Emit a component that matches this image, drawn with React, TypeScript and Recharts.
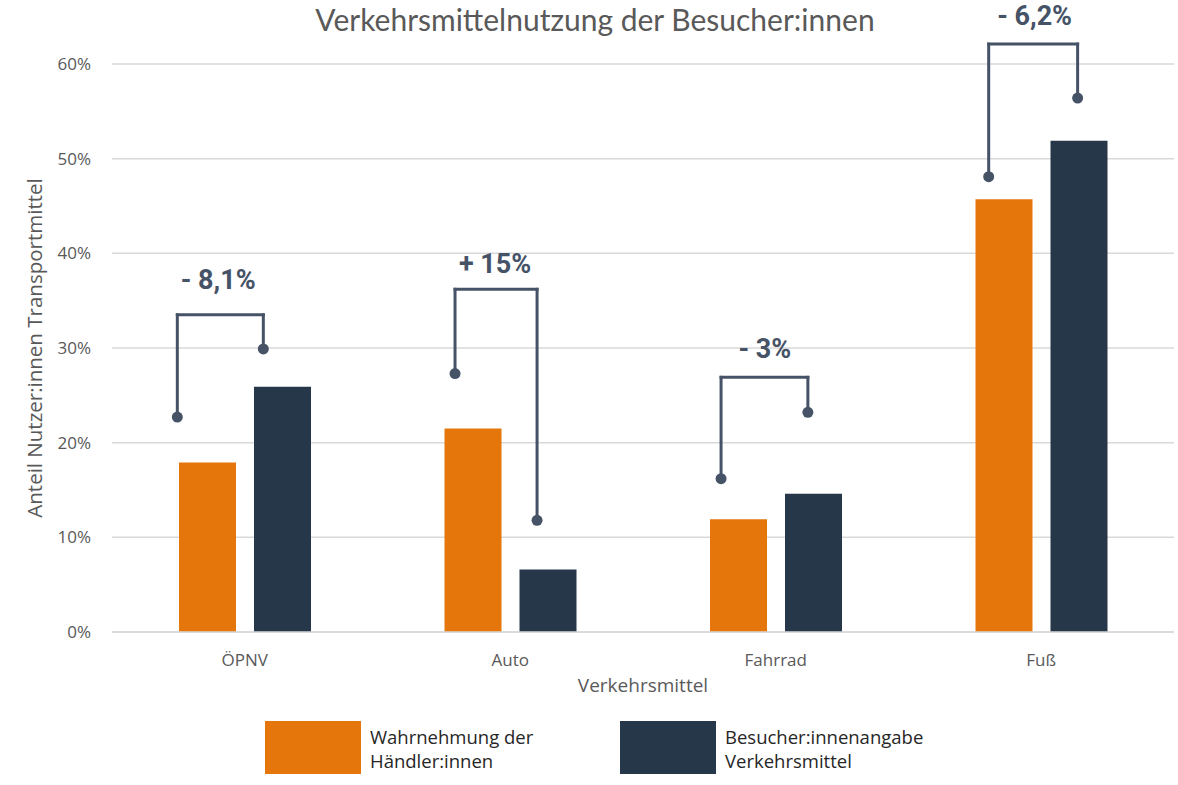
import React from "react"
import { BarChart, Bar, XAxis, YAxis, CartesianGrid, ReferenceLine, ReferenceDot } from "recharts"

// chart values (percent)
const categories = ["ÖPNV", "Auto", "Fahrrad", "Fuß"]
const categoryPos = [0.5, 1.5, 2.5, 3.5]
const haendlerValues = [17.9, 21.5, 11.9, 45.7]
const besucherValues = [25.9, 6.6, 14.6, 51.9]
const yTicks = [0, 10, 20, 30, 40, 50, 60]

// difference brackets: x on the 0..4 category scale, y in percent
const diffLabels = ["- 8,1%", "+ 15%", "- 3%", "- 6,2%"]
const bracketLeftX = [0.246, 1.292, 2.294, 3.302]
const bracketRightX = [0.57, 1.601, 2.621, 3.637]
const bracketLeftY = [22.7, 27.3, 16.2, 48.1]
const bracketRightY = [29.9, 11.8, 23.2, 56.4]
const bracketTopY = [33.5, 36.2, 26.9, 62.1]
const labelX = [0.4, 1.443, 2.459, 3.475]
const labelY = [37.2, 38.9, 29.9, 65.1]

const series = [
  { key: "haendler", name: "Wahrnehmung der\nHändler:innen", color: "#E5760B" },
  { key: "besucher", name: "Besucher:innenangabe\nVerkehrsmittel", color: "#27374A" },
]

const data = categories.map((name, i) => ({
  name,
  pos: categoryPos[i],
  haendler: haendlerValues[i],
  besucher: besucherValues[i],
}))

const BRACKET = "#465367"
const TEXT = "#595959"

export default function App() {
  return (
    <div style={{ position: "relative", width: 1178, height: 785, background: "#fff", fontFamily: "'Open Sans', sans-serif" }}>
      <style>{`body{margin:0}`}</style>
      <div
        style={{
          position: "absolute",
          top: 1,
          left: 0,
          width: 1190,
          textAlign: "center",
          fontFamily: "Lato, sans-serif",
          fontSize: 30,
          color: TEXT,
        }}
      >
        Verkehrsmittelnutzung der Besucher:innen
      </div>

      <BarChart
        width={1178}
        height={700}
        data={data}
        margin={{ top: 64, right: 4, bottom: 0, left: 0 }}
        barSize={57}
        barGap={18}
      >
        <CartesianGrid vertical={false} stroke="#d9d9d9" strokeWidth={1.5} />
        <XAxis
          dataKey="pos"
          type="number"
          domain={[0, 4]}
          ticks={categoryPos}
          tickFormatter={(v) => categories[Math.floor(v)]}
          height={68}
          tickLine={false}
          axisLine={{ stroke: "#d9d9d9", strokeWidth: 1.5 }}
          tickSize={0}
          tickMargin={22}
          tick={{ fill: TEXT, fontSize: 17 }}
          label={{ value: "Verkehrsmittel", position: "insideBottom", offset: 8, style: { fill: TEXT, fontSize: 19 } }}
        />
        <YAxis
          width={112}
          domain={[0, 60]}
          ticks={yTicks}
          tickFormatter={(v) => `${v}%`}
          tickLine={false}
          axisLine={false}
          tickSize={0}
          tickMargin={21}
          tick={{ fill: TEXT, fontSize: 17 }}
          label={{
            value: "Anteil Nutzer:innen Transportmittel",
            angle: -90,
            position: "insideLeft",
            offset: 35,
            style: { textAnchor: "middle", fill: TEXT, fontSize: 20.5 },
          }}
        />
        {series.map((s) => (
          <Bar key={s.key} dataKey={s.key} fill={s.color} isAnimationActive={false} />
        ))}

        {categories.map((c, i) => [
          <ReferenceLine
            key={`l${i}`}
            ifOverflow="visible"
            stroke={BRACKET}
            strokeWidth={3}
            strokeLinecap="square"
            segment={[{ x: bracketLeftX[i], y: bracketLeftY[i] }, { x: bracketLeftX[i], y: bracketTopY[i] }]}
          />,
          <ReferenceLine
            key={`t${i}`}
            ifOverflow="visible"
            stroke={BRACKET}
            strokeWidth={3}
            strokeLinecap="square"
            segment={[{ x: bracketLeftX[i], y: bracketTopY[i] }, { x: bracketRightX[i], y: bracketTopY[i] }]}
          />,
          <ReferenceLine
            key={`r${i}`}
            ifOverflow="visible"
            stroke={BRACKET}
            strokeWidth={3}
            strokeLinecap="square"
            segment={[{ x: bracketRightX[i], y: bracketTopY[i] }, { x: bracketRightX[i], y: bracketRightY[i] }]}
          />,
          <ReferenceDot key={`dl${i}`} x={bracketLeftX[i]} y={bracketLeftY[i]} r={5.5} fill={BRACKET} stroke="none" ifOverflow="visible" />,
          <ReferenceDot key={`dr${i}`} x={bracketRightX[i]} y={bracketRightY[i]} r={5.5} fill={BRACKET} stroke="none" ifOverflow="visible" />,
          <ReferenceDot
            key={`lb${i}`}
            x={labelX[i]}
            y={labelY[i]}
            r={1}
            ifOverflow="visible"
            shape={(p: any) => (
              <text
                x={p.cx}
                y={p.cy}
                textAnchor="middle"
                dominantBaseline="central"
                fill={BRACKET}
                fontSize={27}
                fontWeight="bold"
                fontFamily="'Liberation Sans Narrow', Roboto, sans-serif"
              >
                {diffLabels[i]}
              </text>
            )}
          />,
        ])}
      </BarChart>

      {series.map((s, i) => (
        <div key={s.key} style={{ position: "absolute", top: 721, left: i === 0 ? 265 : 620, display: "flex" }}>
          <div style={{ width: 96, height: 53, background: s.color }} />
          <div style={{ marginLeft: 9, marginTop: 4, fontSize: 18.5, lineHeight: "24px", color: "#262626", whiteSpace: "pre" }}>
            {s.name}
          </div>
        </div>
      ))}
    </div>
  )
}
